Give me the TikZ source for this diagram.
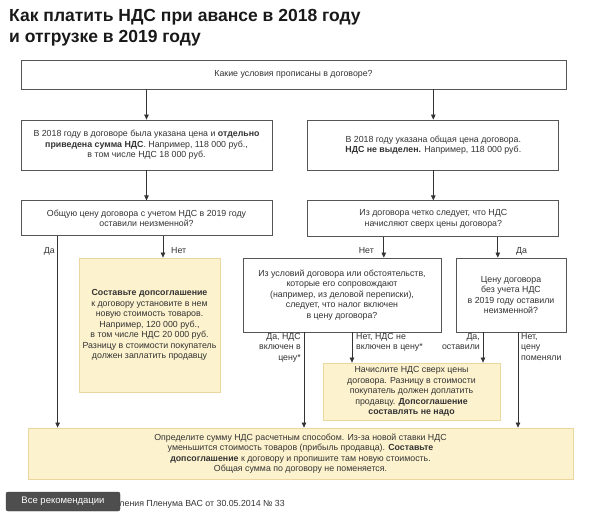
\documentclass[tikz,border=0pt]{standalone}
\usepackage{fontspec}
\setmainfont{Liberation Sans}
\usetikzlibrary{arrows.meta, positioning}
\definecolor{frame}{RGB}{85,85,85}
\definecolor{ink}{RGB}{51,51,51}
\definecolor{notefill}{RGB}{253,242,206}
\definecolor{noteline}{RGB}{236,214,160}
\definecolor{btngray}{RGB}{78,78,78}

\begin{document}
\begin{tikzpicture}[
  x=1pt, y=-1pt,
  qbox/.style = {rectangle, draw=frame, fill=white, line width=0.8pt,
                 inner sep=2pt, align=center, text=ink,
                 font=\fontsize{8.8}{10.5}\selectfont},
  note/.style = {qbox, draw=noteline, fill=notefill},
  arr/.style  = {-{Triangle[length=5pt, width=4.5pt]}, line width=0.7pt, draw=ink},
  lbl/.style  = {inner sep=0pt, text=ink, font=\fontsize{8.8}{10.5}\selectfont},
]
\useasboundingbox (0,0) rectangle (604,515);

% ── Title ─────────────────────────────────────────────────────────────────────
\node[anchor=north west, inner sep=0pt, align=left, text=black!90,
      font=\bfseries\fontsize{17.5}{21.5}\selectfont] (title) at (9,9)
  {Как платить НДС при авансе в 2018 году\\и отгрузке в 2019 году};

% ── Question: contract terms ──────────────────────────────────────────────────
\node[qbox, minimum width=545pt, minimum height=29pt] (terms) at (293.5,74.5)
  {Какие условия прописаны в договоре?};

% ── Left: VAT shown separately ────────────────────────────────────────────────
\node[qbox, minimum width=251pt, minimum height=50pt] (vatapart) at (146.5,145)
  {В 2018 году в договоре была указана цена и \textbf{отдельно}\\
   \textbf{приведена сумма НДС}. Например, 118 000 руб.,\\
   в том числе НДС 18 000 руб.};

\node[qbox, below=30pt of vatapart, minimum width=251pt, minimum height=35pt] (totalsame)
  {Общую цену договора с учетом НДС в 2019 году\\оставили неизменной?};

\node[note, minimum width=141pt, minimum height=134pt] (addendum) at (149.5,325)
  {\textbf{Составьте допсоглашение}\\к договору установите в нем\\
   новую стоимость товаров.\\Например, 120 000 руб.,\\
   в том числе НДС 20 000 руб.\\Разницу в стоимости покупатель\\
   должен заплатить продавцу};

% ── Right: VAT not shown ──────────────────────────────────────────────────────
\node[qbox, right=35pt of vatapart, minimum width=251pt, minimum height=50pt] (vatin)
  {В 2018 году указана общая цена договора.\\
   \textbf{НДС не выделен.} Например, 118 000 руб.};

\node[qbox, below=30pt of vatin, minimum width=251pt, minimum height=36pt] (ontop)
  {Из договора четко следует, что НДС\\начисляют сверх цены договора?};

\node[qbox, minimum width=198pt, minimum height=74pt] (included) at (342,295)
  {Из условий договора или обстоятельств,\\которые его сопровождают\\
   (например, из деловой переписки),\\следует, что налог включен\\
   в цену договора?};

\node[qbox, minimum width=110pt, minimum height=74pt] (netsame) at (511,295)
  {Цену договора\\без учета НДС\\в 2019 году оставили\\неизменной?};

\node[note, minimum width=177pt, minimum height=57pt] (charge) at (411.5,391.5)
  {Начислите НДС сверх цены\\договора. Разницу в стоимости\\
   покупатель должен доплатить\\продавцу. \textbf{Допсоглашение}\\
   \textbf{составлять не надо}};

% ── Bottom: calculated VAT ────────────────────────────────────────────────────
\node[note, minimum width=545pt, minimum height=51pt] (calc) at (300.5,453.5)
  {Определите сумму НДС расчетным способом. Из-за новой ставки НДС\\
   уменьшится стоимость товаров (прибыль продавца). \textbf{Составьте}\\
   \textbf{допсоглашение} к договору и пропишите там новую стоимость.\\
   Общая сумма по договору не поменяется.};

% ── Arrows ────────────────────────────────────────────────────────────────────
\draw[arr] (terms.south -| vatapart) -- (vatapart);
\draw[arr] (terms.south -| vatin)    -- (vatin);
\draw[arr] (vatapart) -- (totalsame);
\draw[arr] (vatin)    -- (ontop);

\draw[arr] ([xshift=37pt]totalsame.south west) -- ([xshift=37pt]totalsame.south west |- calc.north);
\draw[arr] ([xshift=16.5pt]totalsame.south)    -- ([xshift=16.5pt]totalsame.south |- addendum.north);

\draw[arr] ([xshift=-49.5pt]ontop.south) -- ([xshift=-49.5pt]ontop.south |- included.north);
\draw[arr] ([xshift=64.5pt]ontop.south)  -- ([xshift=64.5pt]ontop.south |- netsame.north);

\draw[arr] ([xshift=-38pt]included.south) -- ([xshift=-38pt]included.south |- calc.north);
\draw[arr] ([xshift=10pt]included.south)  -- ([xshift=10pt]included.south |- charge.north);

\draw[arr] ([xshift=-28pt]netsame.south) -- ([xshift=-28pt]netsame.south |- charge.north);
\draw[arr] ([xshift=7pt]netsame.south)   -- ([xshift=7pt]netsame.south |- calc.north);

% ── Labels ────────────────────────────────────────────────────────────────────
\node[lbl, anchor=east] (yesleft) at (55,251)  {Да};
\node[lbl, anchor=west] (noleft)  at (171,251) {Нет};
\node[lbl, anchor=east] (noright) at (374,251) {Нет};
\node[lbl, anchor=west] (yesright) at (516,251) {Да};
\node[lbl, anchor=north east, align=right] (yesinc) at (301,333)
  {Да, НДС\\включен в\\цену*};
\node[lbl, anchor=north west, align=left] (noinc) at (356,333)
  {Нет, НДС не\\включен в цену*};
\node[lbl, anchor=north east, align=right] (yessame) at (480,333)
  {Да,\\оставили};
\node[lbl, anchor=north west, align=left] (nosame) at (521,333)
  {Нет,\\цену\\поменяли};

% ── Footer ────────────────────────────────────────────────────────────────────
\node[lbl, anchor=base east] (source) at (285,506)
  {* п. 17 постановления Пленума ВАС от 30.05.2014 № 33};
\node[rectangle, rounded corners=2pt, fill=btngray, draw=black!75, text=white,
      minimum width=114pt, minimum height=19pt, inner sep=0pt,
      font=\fontsize{9.5}{11}\selectfont] (allrec) at (63,501.5) {Все рекомендации};

\end{tikzpicture}
\end{document}
